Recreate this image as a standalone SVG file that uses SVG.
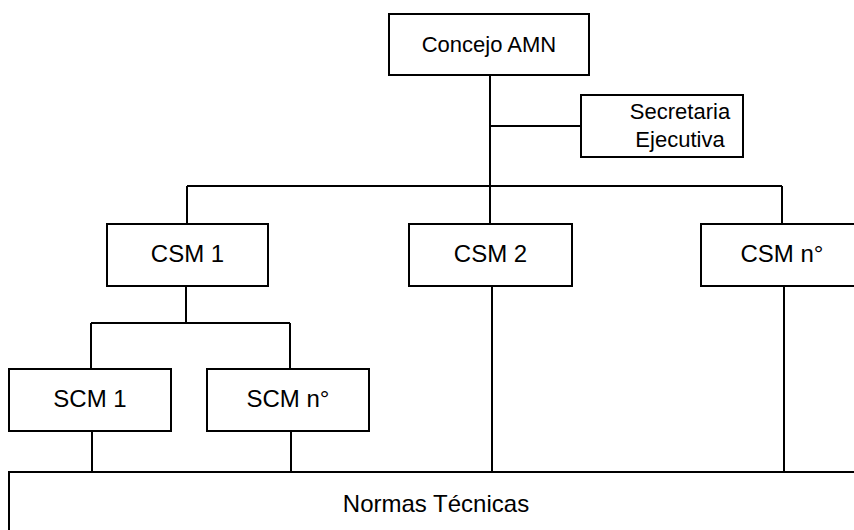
<svg xmlns="http://www.w3.org/2000/svg" width="854" height="530" viewBox="0 0 854 530">
  <style>
    .box { fill: #ffffff; stroke: #000000; stroke-width: 2; }
    .link { fill: none; stroke: #000000; stroke-width: 2; }
    .lbl { font-family: "Liberation Sans", Arial, sans-serif; font-size: 24px; fill: #000000; text-anchor: middle; }
    .sm { font-family: "Liberation Sans", Arial, sans-serif; font-size: 22px; fill: #000000; text-anchor: middle; }
  </style>
  <rect x="0" y="0" width="854" height="530" fill="#ffffff"/>

  <!-- connectors -->
  <g id="connectors" class="link">
    <path d="M490,75 V224"/>
    <path d="M490,126 H581"/>
    <path d="M187,186 H782"/>
    <path d="M187,186 V224"/>
    <path d="M782,186 V224"/>
    <path d="M186,286 V323"/>
    <path d="M91,323 H290"/>
    <path d="M91,323 V369"/>
    <path d="M290,323 V369"/>
    <path d="M92,431 V472"/>
    <path d="M291,431 V472"/>
    <path d="M492,286 V472"/>
    <path d="M784,286 V472"/>
  </g>

  <g id="concejo">
    <rect class="box" x="389" y="14" width="200" height="61"/>
    <text class="sm" x="489" y="52">Concejo AMN</text>
  </g>

  <g id="secretaria">
    <rect class="box" x="581" y="95" width="162" height="62"/>
    <text class="sm" x="680" y="119">Secretaria</text>
    <text class="sm" x="680" y="147">Ejecutiva</text>
  </g>

  <g id="csm1">
    <rect class="box" x="107" y="224" width="161" height="62"/>
    <text class="lbl" x="187.5" y="262">CSM 1</text>
  </g>

  <g id="csm2">
    <rect class="box" x="409" y="224" width="163" height="62"/>
    <text class="lbl" x="490.5" y="262">CSM 2</text>
  </g>

  <g id="csmn">
    <rect class="box" x="701" y="224" width="162" height="62"/>
    <text class="lbl" x="782" y="262">CSM n°</text>
  </g>

  <g id="scm1">
    <rect class="box" x="9" y="369" width="162" height="62"/>
    <text class="lbl" x="90" y="407">SCM 1</text>
  </g>

  <g id="scmn">
    <rect class="box" x="207" y="369" width="162" height="62"/>
    <text class="lbl" x="288" y="407">SCM n°</text>
  </g>

  <g id="normas">
    <rect class="box" x="9" y="472" width="854" height="70"/>
    <text class="lbl" x="436" y="512">Normas Técnicas</text>
  </g>
</svg>
